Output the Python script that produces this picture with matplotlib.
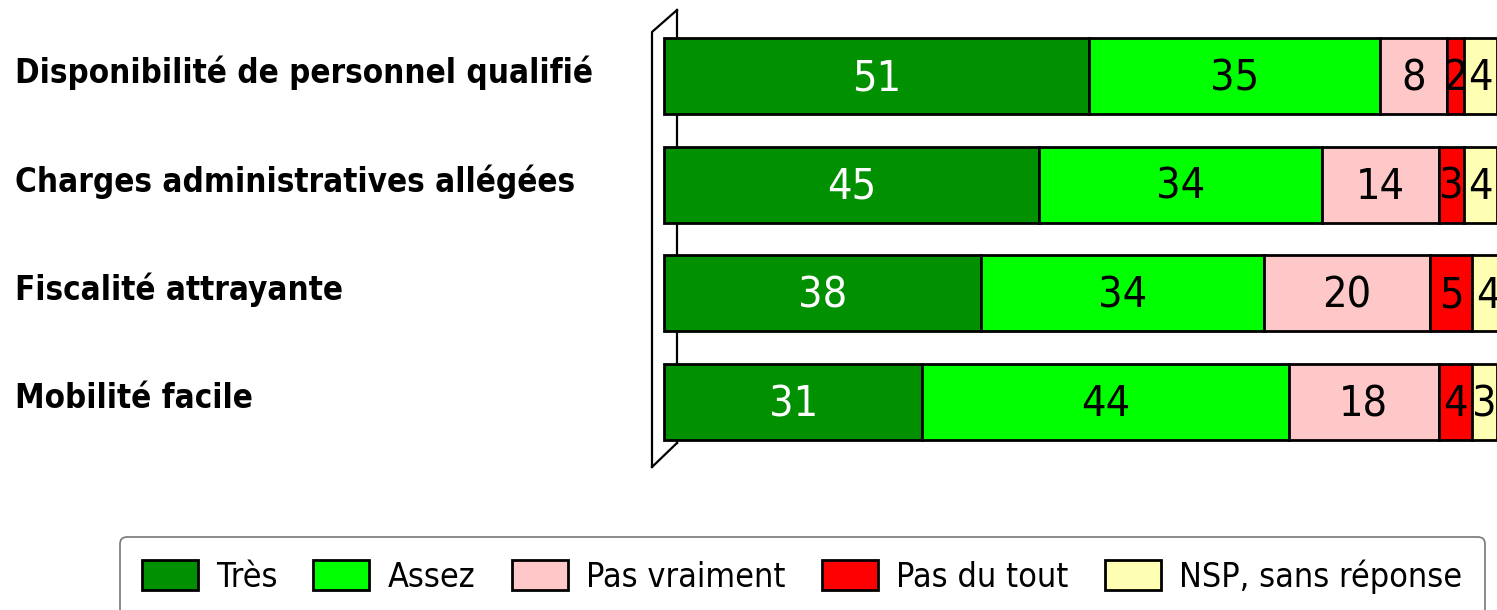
import matplotlib
matplotlib.use('Agg')
import matplotlib.pyplot as plt
import matplotlib.transforms as mtransforms
from matplotlib import font_manager

# --- data ---
categories = ['Disponibilité de personnel qualifié',
              'Charges administratives allégées',
              'Fiscalité attrayante',
              'Mobilité facile']
tres = [51, 45, 38, 31]
assez = [35, 34, 34, 44]
pas_vraiment = [8, 14, 20, 18]
pas_du_tout = [2, 3, 5, 4]
nsp = [4, 4, 4, 3]

series_names = ['Très', 'Assez', 'Pas vraiment', 'Pas du tout', 'NSP, sans réponse']
series_values = [tres, assez, pas_vraiment, pas_du_tout, nsp]
series_colors = ['#009000', '#00FF00', '#FFC8C8', '#FF0000', '#FFFFB4']
text_colors = ['white', 'black', 'black', 'black', 'black']

# pick a condensed font if one is installed
fonts = font_manager.fontManager.ttflist
has_cond = any(f.name == 'DejaVu Sans' and 'condensed' in str(f.stretch) for f in fonts)
if has_cond:
    font = {'family': 'DejaVu Sans', 'stretch': 'condensed'}
    scale = 1.0
else:
    font = {'family': 'Liberation Sans'}
    scale = 0.85

W, H = 1497, 610
fig = plt.figure(figsize=(W / 100, H / 100), dpi=100)

# axes: x 0..100 maps to pixel 664..1497
ax = fig.add_axes([664 / W, 0, 833 / W, 1])
row_px = 108.7
first_px = 76
ypos = list(range(len(categories)))
ax.set_xlim(0, 100)
ax.set_ylim((H - first_px) / row_px, -first_px / row_px)
ax.axis('off')

# 3D-looking wall behind the bars
ax.plot([1.56, 1.56], [-0.607, 3.376], color='black', lw=1.6, zorder=1, clip_on=False)
ax.plot([-1.44, -1.44, 1.56], [3.597, -0.405, -0.607], color='black', lw=1.6,
        zorder=1, clip_on=False)
ax.plot([-1.44, 1.56], [3.597, 3.376], color='black', lw=1.6, zorder=1, clip_on=False)

lefts = [0] * len(categories)
handles = []
for name, vals, col, tcol in zip(series_names, series_values, series_colors, text_colors):
    bars = ax.barh(ypos, vals, left=lefts, height=0.7, color=col,
                   edgecolor='black', linewidth=2, zorder=3, clip_on=False, label=name)
    handles.append(bars)
    for y, v, l in zip(ypos, vals, lefts):
        ax.text(l + v / 2, y + 0.02, str(v), ha='center', va='center', color=tcol,
                fontsize=31 * scale, zorder=5, clip_on=False, **font)
    lefts = [l + v for l, v in zip(lefts, vals)]

# category labels on the left
trans = mtransforms.blended_transform_factory(fig.transFigure, ax.transData)
for y, cat in zip(ypos, categories):
    ax.text(15 / W, y - 0.03, cat, transform=trans, ha='left', va='center',
            fontsize=23.8 * scale, fontweight='bold', **font)

leg = fig.legend(handles, series_names, ncol=5, loc='upper left',
                 bbox_to_anchor=(120 / W, 1 - 537 / H),
                 prop=dict(size=24.5 * scale, **font),
                 frameon=True, fancybox=True, edgecolor='#555555',
                 handlelength=1.65 / scale, handleheight=0.95 / scale,
                 handletextpad=0.55, columnspacing=1.05, borderpad=0.65,
                 borderaxespad=0)
leg.get_frame().set_linewidth(1.2)

fig.savefig('out.png', dpi=100)
